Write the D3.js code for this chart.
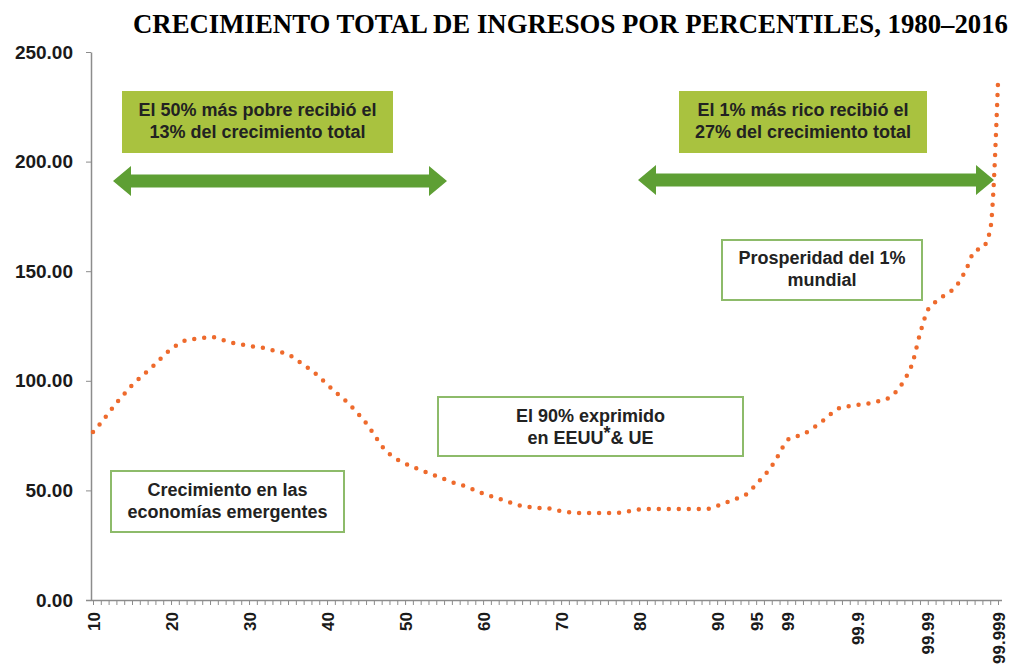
<!DOCTYPE html>
<html>
<head>
<meta charset="utf-8">
<script src="https://cdn.jsdelivr.net/npm/d3@7"></script>
<style>
  body { margin: 0; background: #fff; }
  svg { display: block; }
</style>
</head>
<body>
<div id="chart"></div>
<script>
// percentile groups (category axis)
const percentiles = [
  "10","11","12","13","14","15","16","17","18","19",
  "20","21","22","23","24","25","26","27","28","29",
  "30","31","32","33","34","35","36","37","38","39",
  "40","41","42","43","44","45","46","47","48","49",
  "50","51","52","53","54","55","56","57","58","59",
  "60","61","62","63","64","65","66","67","68","69",
  "70","71","72","73","74","75","76","77","78","79",
  "80","81","82","83","84","85","86","87","88","89",
  "90","91","92","93","94","95","96","97","98","99",
  "99.1","99.2","99.3","99.4","99.5","99.6","99.7","99.8","99.9",
  "99.91","99.92","99.93","99.94","99.95","99.96","99.97","99.98","99.99",
  "99.991","99.992","99.993","99.994","99.995","99.996","99.997","99.998","99.999"
]

// crecimiento total (%) por percentil
const growth = [
  76.6, 80.7, 85.3, 89.9, 94.0, 98.0, 101.3, 104.5, 107.7, 111.3,
  114.5, 116.8, 118.6, 119.1, 119.5, 120.0, 119.5, 118.2, 117.2, 116.6,
  115.9, 115.4, 115.0, 114.0, 113.1, 112.0, 110.0, 107.0, 105.0, 101.7,
  98.5, 95.0, 92.2, 88.7, 84.9, 80.7, 75.7, 70.3, 66.6, 64.1,
  62.3, 60.7, 59.3, 57.9, 56.6, 55.2, 53.8, 52.7, 51.6, 50.0,
  48.6, 47.4, 46.3, 45.2, 43.8, 42.9, 42.4, 42.0, 42.0, 41.3,
  40.6, 40.1, 39.7, 39.7, 39.7, 39.7, 39.7, 39.7, 40.1, 40.6,
  41.3, 41.5, 41.5, 41.5, 41.5, 41.5, 41.5, 41.5, 41.5, 41.7,
  42.9, 44.3, 45.6, 47.0, 48.8, 52.9, 56.6, 61.1, 67.0, 73.0,
  74.4, 75.7, 77.6, 80.3, 83.0, 86.2, 88.0, 88.5, 89.0,
  89.4, 90.1, 91.0, 92.2, 95.3, 100.4, 107.7, 121.4, 132.3,
  136.0, 138.7, 141.0, 145.0, 151.5, 159.2, 160.6, 168.8, 236.3
]

const labeledTicks = ["10","20","30","40","50","60","70","80","90","95","99","99.9","99.99","99.999"]
const yTicks = [0, 50, 100, 150, 200, 250]

const title = "CRECIMIENTO TOTAL DE INGRESOS POR PERCENTILES, 1980–2016"
const filledNotes = [
  {lines: ["El 50% más pobre recibió el", "13% del crecimiento total"]},
  {lines: ["El 1% más rico recibió el", "27% del crecimiento total"]}
]
const boxNotes = [
  {lines: ["Prosperidad del 1%", "mundial"]},
  {lines: ["El 90% exprimido", "en EEUU*& UE"]},
  {lines: ["Crecimiento en las", "economías emergentes"]}
]

const width = 1013
const height = 670

const svg = d3.select("#chart").append("svg")
  .attr("width", width)
  .attr("height", height)

const x = d3.scalePoint().domain(percentiles).range([93, 998])
const y = d3.scaleLinear().domain([0, 250]).range([600, 52])

// title
svg.append("text")
  .attr("x", 133)
  .attr("y", 33)
  .attr("textLength", 875)
  .attr("lengthAdjust", "spacingAndGlyphs")
  .style("font-family", "'Liberation Serif', 'Times New Roman', serif")
  .style("font-weight", "bold")
  .style("font-size", "27px")
  .attr("fill", "#000")
  .text(title)

// y axis
const yAxis = svg.append("g")
  .attr("transform", "translate(91,0)")
  .call(d3.axisLeft(y).tickValues(yTicks).tickFormat(d3.format(".2f")).tickSize(5).tickSizeOuter(0))
yAxis.select(".domain").attr("stroke", "#8c8c8c").attr("stroke-width", 1.5)
yAxis.selectAll(".tick line").attr("stroke", "#8c8c8c")
yAxis.selectAll("text")
  .attr("x", -18)
  .style("font-family", "'Liberation Sans', Arial, sans-serif")
  .style("font-weight", "bold")
  .style("font-size", "19px")
  .attr("fill", "#1a1a1a")

// x axis
const xAxis = svg.append("g")
  .attr("transform", "translate(0,600)")
  .call(d3.axisBottom(x)
    .tickSize(5)
    .tickSizeOuter(0)
    .tickFormat(d => labeledTicks.includes(d) ? d : ""))
xAxis.select(".domain").attr("d", "M86,0.5H1002").attr("stroke", "#8c8c8c").attr("stroke-width", 1.5)
xAxis.selectAll(".tick line").attr("stroke", "#8c8c8c")
xAxis.selectAll("text")
  .attr("transform", "rotate(-90)")
  .attr("text-anchor", "end")
  .attr("x", -12)
  .attr("y", 0)
  .attr("dy", "0.36em")
  .style("font-family", "'Liberation Sans', Arial, sans-serif")
  .style("font-weight", "bold")
  .style("font-size", "17px")
  .attr("fill", "#1a1a1a")

// dotted growth curve
const line = d3.line()
  .x((d, i) => x(percentiles[i]))
  .y(d => y(d))
  .curve(d3.curveMonotoneX)

svg.append("path")
  .datum(growth)
  .attr("d", line)
  .attr("fill", "none")
  .attr("stroke", "#ee6a2c")
  .attr("stroke-width", 4.5)
  .attr("stroke-linecap", "round")
  .attr("stroke-dasharray", "0,10")

const noteFont = "'Liberation Sans', Arial, sans-serif"

function writeLines(g, lines, cx, baselines){
  lines.forEach((t, i) => {
    const txt = g.append("text")
      .attr("x", cx)
      .attr("y", baselines[i])
      .attr("text-anchor", "middle")
      .style("font-family", noteFont)
      .style("font-weight", "bold")
      .style("font-size", "18px")
      .attr("fill", "#222")
    if (t.includes("*")) {
      const parts = t.split("*")
      txt.append("tspan").text(parts[0])
      txt.append("tspan").attr("dy", -5).text("*")
      txt.append("tspan").attr("dy", 5).text(parts[1])
    } else {
      txt.text(t)
    }
  })
}

// filled green notes
const filledPos = [
  {x0: 122, x1: 393, y0: 91, y1: 153, base: [116, 138]},
  {x0: 679, x1: 927, y0: 91, y1: 153, base: [116, 138]}
]
filledNotes.forEach((n, i) => {
  const p = filledPos[i]
  const g = svg.append("g")
  g.append("rect")
    .attr("x", p.x0).attr("y", p.y0)
    .attr("width", p.x1 - p.x0).attr("height", p.y1 - p.y0)
    .attr("fill", "#a9c23f")
  writeLines(g, n.lines, (p.x0 + p.x1) / 2, p.base)
})

// double arrows
const arrows = [
  {x0: 113, x1: 447, cy: 181},
  {x0: 638, x1: 994, cy: 180}
]
arrows.forEach(a => {
  const shaft = 6.5, head = 15, len = 18
  const pts = [
    [a.x0, a.cy],
    [a.x0 + len, a.cy - head],
    [a.x0 + len, a.cy - shaft],
    [a.x1 - len, a.cy - shaft],
    [a.x1 - len, a.cy - head],
    [a.x1, a.cy],
    [a.x1 - len, a.cy + head],
    [a.x1 - len, a.cy + shaft],
    [a.x0 + len, a.cy + shaft],
    [a.x0 + len, a.cy + head]
  ]
  svg.append("path")
    .attr("d", d3.line()(pts) + "Z")
    .attr("fill", "#5e9f34")
})

// outlined notes
const boxPos = [
  {x0: 722, x1: 922, y0: 240, y1: 300, base: [264, 286]},
  {x0: 438, x1: 743, y0: 397, y1: 456, base: [422, 444]},
  {x0: 111, x1: 344, y0: 471, y1: 532, base: [496, 518]}
]
boxNotes.forEach((n, i) => {
  const p = boxPos[i]
  const g = svg.append("g")
  g.append("rect")
    .attr("x", p.x0).attr("y", p.y0)
    .attr("width", p.x1 - p.x0).attr("height", p.y1 - p.y0)
    .attr("fill", "#fff")
    .attr("stroke", "#8dbb6a")
    .attr("stroke-width", 2)
  writeLines(g, n.lines, (p.x0 + p.x1) / 2, p.base)
})
</script>
</body>
</html>
